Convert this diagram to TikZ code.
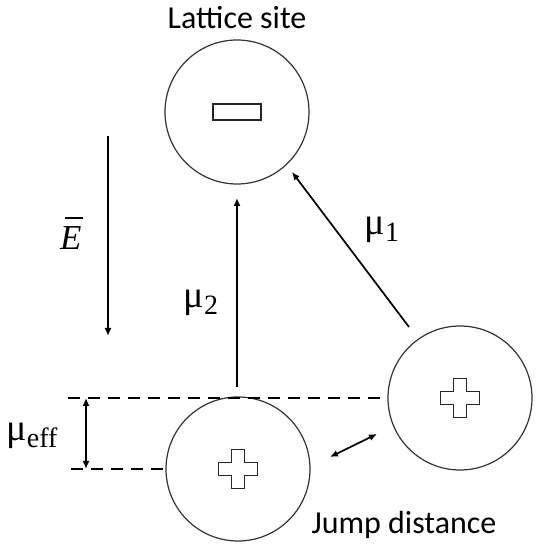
\documentclass[tikz,border=0pt]{standalone}
\usepackage{fontspec}
\setmainfont{Carlito}
\newfontfamily\trm{Liberation Serif}
\usetikzlibrary{arrows.meta,calc}
\newcommand\muLbl[2]{{\trm\fontsize{#2}{#2}\selectfont μ\raisebox{-7pt}{\fontsize{28}{30}\selectfont #1}}}
\tikzset{
  site/.style={circle,draw=black!80,line width=1.2pt,minimum size=144pt,inner sep=0pt},
  arr/.style={line width=1.7pt,-{Latex[length=8pt,width=7pt]}},
  darr/.style={line width=1.7pt,{Latex[length=8pt,width=7pt]}-{Latex[length=8pt,width=7pt]}},
  guideline/.style={line width=1.7pt,dash pattern=on 12pt off 8pt},
  lbl/.style={inner sep=0pt,font=\fontsize{32}{36}\selectfont},
  sym/.style={draw=black!85,line width=1.1pt}
}
\begin{document}
\begin{tikzpicture}[x=1pt,y=1pt]
\useasboundingbox (0,0) rectangle (536,546);
% sites
\node[site] (c0) at (237,434) {};
\node[site] (c1) at (238,77) {};
\node[site] (c2) at (460,148) {};
\node[lbl] (ls) at (237,528) {Lattice site};
\node[lbl] (jd) at (404,21) {Jump distance};
% symbols
\draw[sym] ($(c0)+(-24,-8)$) rectangle ($(c0)+(24,8)$);
\foreach \c in {c1,c2}{
  \draw[sym] ($(\c)+(-6.5,19.5)$) -- ++(13,0) -- ++(0,-13) -- ++(13,0) -- ++(0,-13) -- ++(-13,0)
    -- ++(0,-13) -- ++(-13,0) -- ++(0,13) -- ++(-13,0) -- ++(0,13) -- ++(13,0) -- cycle;
}
% dashed guide lines
\coordinate (dt) at (68,148);
\coordinate (db) at (71,77);
\draw[guideline] (dt) -- (c2.west);
\draw[guideline] (db) -- (c1.west);
% mu_eff
\coordinate (ea) at (86,148);
\coordinate (eb) at (86,77);
\draw[darr] (ea) -- (eb);
\node[inner sep=0pt] (meff) at (32,110) {\muLbl{eff}{38}};
% field
\coordinate (fa) at (108,410);
\coordinate (fb) at (108,210);
\draw[arr] (fa) -- (fb);
\node[inner sep=0pt,anchor=base west] (E) at (60,296)
  {\trm\itshape\fontsize{35}{36}\selectfont\makebox[0pt][l]{\hspace{5pt}\raisebox{31pt}{\rule{18pt}{1.6pt}}}E};
% mu_2
\coordinate (m2a) at (237,159);
\coordinate (m2b) at (237,348);
\draw[arr] (m2a) -- (m2b);
\node[inner sep=0pt] (m2) at (201,243) {\muLbl{2}{38}};
% mu_1
\coordinate (m1a) at (409,219);
\coordinate (m1b) at (292,374);
\draw[arr] (m1a) -- (m1b);
\node[inner sep=0pt] (m1) at (382,316) {\muLbl{1}{38}};
% jump
\coordinate (ja) at (330,89);
\coordinate (jb) at (377,112);
\draw[darr] (ja) -- (jb);
\end{tikzpicture}
\end{document}
